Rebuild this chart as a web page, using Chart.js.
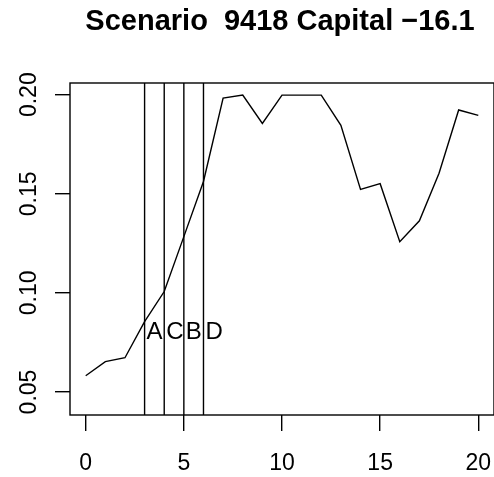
<!DOCTYPE html>
<html>
<head>
<meta charset="utf-8">
<script src="https://cdn.jsdelivr.net/npm/chart.js@4/dist/chart.umd.min.js"></script>
<style>
  html, body { margin: 0; padding: 0; background: #ffffff; }
  #wrap { width: 494px; height: 477px; }
</style>
</head>
<body>
<div id="wrap"><canvas id="c" width="494" height="477"></canvas></div>
<script>
// Period index and the capital ratio series
const periods = [0, 1, 2, 3, 4, 5, 6, 7, 8, 9, 10, 11, 12, 13, 14, 15, 16, 17, 18, 19, 20];
const ratio = [0.0582, 0.0653, 0.0673, 0.0855, 0.1007, 0.1284, 0.1562, 0.1983, 0.1998, 0.1855,
               0.1998, 0.1998, 0.1998, 0.1845, 0.1522, 0.1551, 0.1258, 0.1364, 0.1604, 0.1923, 0.1896];

// Event markers: vertical lines with their letters
const eventX = [3, 4, 5, 6];
const eventLabels = ['A', 'C', 'B', 'D'];
const eventLabelY = 0.08;

// Axis limits and tick labels
const xRange = [-0.8, 20.8];
const yRange = [0.0384, 0.2059];
const xTicks = [0, 5, 10, 15, 20];
const yTicks = [0.05, 0.10, 0.15, 0.20];
const yTickText = ['0.05', '0.10', '0.15', '0.20'];

const titleText = 'Scenario  9418 Capital \u221216.1';

const FONT = '"Liberation Sans", Arial, Helvetica, sans-serif';

const seriesData = periods.map((p, i) => ({ x: p, y: ratio[i] }));
const eventSets = eventX.map(v => ({
  data: [{ x: v, y: yRange[0] }, { x: v, y: yRange[1] }],
  borderColor: '#000', borderWidth: 1.4, pointRadius: 0, fill: false, tension: 0
}));

const decorations = {
  id: 'decorations',
  afterDraw(chart) {
    const { ctx, chartArea: a, scales } = chart;
    const xs = scales.x, ys = scales.y;
    ctx.save();
    // plot frame
    ctx.strokeStyle = '#000';
    ctx.lineWidth = 1.4;
    ctx.strokeRect(a.left, a.top, a.right - a.left, a.bottom - a.top);

    ctx.fillStyle = '#000';
    // x tick labels
    ctx.font = '23px ' + FONT;
    ctx.textAlign = 'center';
    ctx.textBaseline = 'middle';
    xTicks.forEach(v => ctx.fillText(String(v), xs.getPixelForValue(v), 464));

    // y tick labels, rotated
    yTicks.forEach((v, i) => {
      ctx.save();
      ctx.translate(30, ys.getPixelForValue(v));
      ctx.rotate(-Math.PI / 2);
      ctx.textAlign = 'center';
      ctx.textBaseline = 'middle';
      ctx.fillText(yTickText[i], 0, 0);
      ctx.restore();
    });

    // event letters to the right of each line
    ctx.font = '24px ' + FONT;
    ctx.textAlign = 'left';
    ctx.textBaseline = 'middle';
    eventX.forEach((v, i) => {
      ctx.fillText(eventLabels[i], xs.getPixelForValue(v) + 2, ys.getPixelForValue(eventLabelY));
    });

    // title
    ctx.font = 'bold 29px ' + FONT;
    ctx.textAlign = 'center';
    ctx.textBaseline = 'alphabetic';
    ctx.fillText(titleText, 280, 30);
    ctx.restore();
  }
};

new Chart(document.getElementById('c'), {
  type: 'line',
  data: {
    datasets: [
      { data: seriesData, borderColor: '#000', borderWidth: 1.4, pointRadius: 0, fill: false, tension: 0 },
      ...eventSets
    ]
  },
  options: {
    responsive: false,
    devicePixelRatio: 1,
    animation: false,
    events: [],
    layout: { padding: { top: 83, right: 0, left: 0, bottom: 0 } },
    plugins: { legend: { display: false }, tooltip: { enabled: false }, title: { display: false } },
    scales: {
      x: {
        type: 'linear',
        min: xRange[0], max: xRange[1],
        afterBuildTicks(s) { s.ticks = xTicks.map(v => ({ value: v })); },
        afterFit(s) { s.height = 62; },
        ticks: { display: false },
        border: { display: false },
        grid: { drawOnChartArea: false, drawTicks: true, tickLength: 16, color: '#000', lineWidth: 1.4 }
      },
      y: {
        type: 'linear',
        min: yRange[0], max: yRange[1],
        afterBuildTicks(s) { s.ticks = yTicks.map(v => ({ value: v })); },
        afterFit(s) { s.width = 70; },
        ticks: { display: false },
        border: { display: false },
        grid: { drawOnChartArea: false, drawTicks: true, tickLength: 15, color: '#000', lineWidth: 1.4 }
      }
    }
  },
  plugins: [decorations]
});
</script>
</body>
</html>
